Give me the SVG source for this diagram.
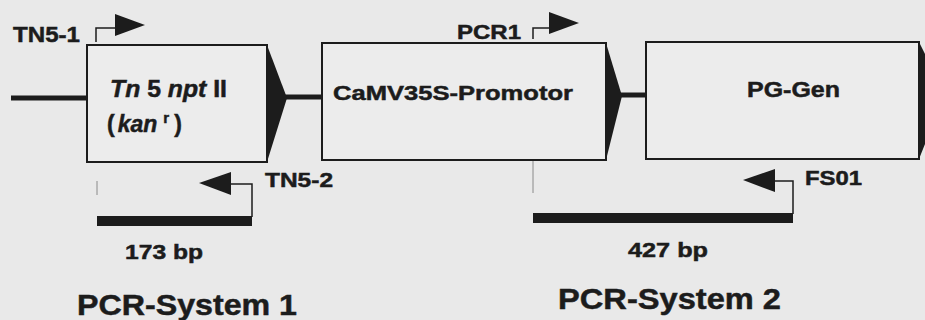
<svg xmlns="http://www.w3.org/2000/svg" width="925" height="320" viewBox="0 0 925 320">
<style>
text{font-family:"Liberation Sans",Arial,Helvetica,sans-serif;font-weight:bold;fill:#1c1c1c;stroke:#1c1c1c;stroke-width:0.5}
.box{fill:#ececec;stroke:#1c1c1c;stroke-width:2}
.tri{fill:#1c1c1c}
.dna{stroke:#1c1c1c;stroke-width:5;fill:none}
.thin{stroke:#1c1c1c;stroke-width:1.5;fill:none}
.guide{stroke:#8a8a8a;stroke-width:1;fill:none}
.bar{fill:#1c1c1c}
.it{font-style:italic}
</style>
<rect x="0" y="0" width="925" height="320" fill="#e9e9e9"/>
<g id="connectors">
<line class="dna" x1="11" y1="98" x2="88" y2="98"/>
<line class="dna" x1="285" y1="97" x2="323" y2="97"/>
<line class="dna" x1="620" y1="95" x2="647" y2="95"/>
</g>
<g id="tn5nptII">
<rect class="box" x="87" y="45" width="180" height="117"/>
<polygon class="tri" points="267,45 287,98 267,162"/>
<text x="110" y="97" font-size="23" textLength="117" lengthAdjust="spacingAndGlyphs"><tspan class="it">Tn</tspan> 5 <tspan class="it">npt</tspan> II</text>
<text x="107" y="132" font-size="23">(<tspan class="it" dx="3">kan</tspan><tspan dx="6" dy="-9" font-size="15">r</tspan><tspan dx="5" dy="9">)</tspan></text>
</g>
<g id="camv35s">
<rect class="box" x="322" y="43" width="284" height="117"/>
<polygon class="tri" points="606,43 622,96 606,160"/>
<text x="333" y="100" font-size="21" textLength="240" lengthAdjust="spacingAndGlyphs">CaMV35S-Promotor</text>
</g>
<g id="pggen">
<rect class="box" x="646" y="42" width="273" height="117"/>
<polygon class="tri" points="919,42 945,94 919,159"/>
<text x="747" y="97" font-size="22" textLength="93" lengthAdjust="spacingAndGlyphs">PG-Gen</text>
</g>
<g id="tn5-1">
<text x="13" y="42" font-size="22" textLength="67" lengthAdjust="spacingAndGlyphs">TN5-1</text>
<polyline class="thin" points="96,42 96,28 116,28"/>
<polygon class="tri" points="115,14 145,25 115,36"/>
</g>
<g id="pcr1">
<text x="457" y="39" font-size="20" textLength="64" lengthAdjust="spacingAndGlyphs">PCR1</text>
<polyline class="thin" points="533,39 533,28 550,28"/>
<polygon class="tri" points="549,12 579,23 549,34"/>
</g>
<g id="tn5-2">
<text x="265" y="187" font-size="20" textLength="68" lengthAdjust="spacingAndGlyphs">TN5-2</text>
<polygon class="tri" points="231,172 199,183 231,195"/>
<polyline class="thin" points="230,184 252,184 252,217"/>
<line class="guide" x1="97" y1="181" x2="97" y2="195"/>
<rect class="bar" x="97" y="216" width="155" height="10"/>
<text x="125" y="259" font-size="21" textLength="78" lengthAdjust="spacingAndGlyphs">173 bp</text>
</g>
<g id="fs01">
<text x="805" y="185" font-size="20" textLength="57" lengthAdjust="spacingAndGlyphs">FS01</text>
<polygon class="tri" points="775,169 743,180 775,192"/>
<polyline class="thin" points="774,181 793,181 793,214"/>
<line class="guide" x1="533" y1="161" x2="533" y2="193"/>
<rect class="bar" x="533" y="213" width="260" height="10"/>
<text x="628" y="257" font-size="21" textLength="80" lengthAdjust="spacingAndGlyphs">427 bp</text>
</g>
<g id="system1">
<text x="77" y="315" font-size="30" textLength="220" lengthAdjust="spacingAndGlyphs">PCR-System 1</text>
</g>
<g id="system2">
<text x="558" y="309" font-size="30" textLength="223" lengthAdjust="spacingAndGlyphs">PCR-System 2</text>
</g>
</svg>
